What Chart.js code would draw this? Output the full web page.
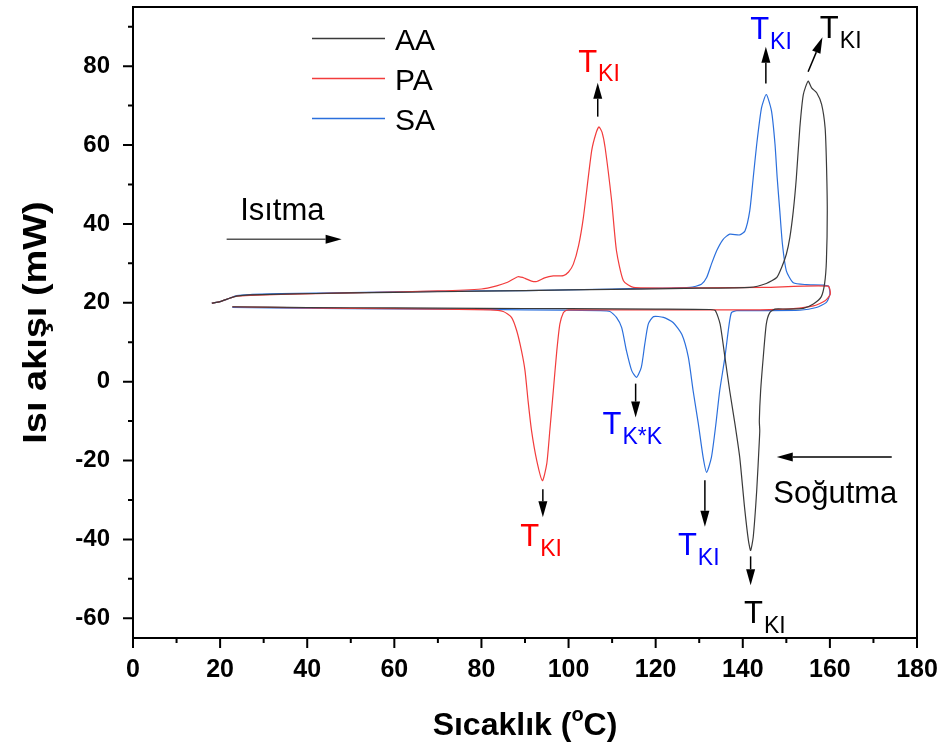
<!DOCTYPE html>
<html>
<head>
<meta charset="utf-8">
<script src="https://cdn.jsdelivr.net/npm/chart.js@4.4.0/dist/chart.umd.min.js"></script>
<style>
  html, body { margin: 0; padding: 0; background: #fff; }
</style>
</head>
<body>
<canvas id="dsc" width="940" height="744"></canvas>
<script>
// DSC heating / cooling loops, temperature in °C, heat flow in mW
const seriesNames = ['AA', 'PA', 'SA'];
const xTicks = [0, 20, 40, 60, 80, 100, 120, 140, 160, 180];
const yTicks = [-60, -40, -20, 0, 20, 40, 60, 80];

const aaHeatT = [18.1, 20, 22.3, 23.8, 26.9, 34, 50, 70, 90, 110, 130, 141.6, 145.4, 147.8, 148.9, 150, 150.8, 151.6, 152.3, 153.1, 153.9, 155, 155.8, 157, 158.1, 158.9, 159.2, 159.4, 159.2, 158.8, 158, 156.2, 153.9, 150];
const aaHeatQ = [19.9, 20.3, 21.2, 21.7, 22.0, 22.2, 22.5, 22.8, 23.1, 23.4, 23.7, 23.9, 24.9, 26.4, 28.9, 32.3, 36.5, 43.3, 51.7, 64.4, 72.8, 76.2, 74.5, 73.2, 70.3, 64.4, 55.9, 43.3, 30.6, 25.0, 21.5, 19.7, 18.6, 18.4];
const aaCoolT = [147.4, 146.2, 145.4, 144.7, 144.1, 143.8, 143.9, 143.8, 143.2, 142.4, 141.8, 141.3, 140.4, 139.3, 138.2, 137, 135.9, 134.8, 133.7, 132.5, 120, 100, 80, 60, 40, 22.8];
const aaCoolQ = [18.4, 17.5, 14.6, 6.2, -2.3, -9.9, -12.4, -15, -27.6, -39.4, -42.8, -40.3, -31.8, -19.2, -10.7, -2.3, 6.2, 14.6, 18.0, 18.3, 18.4, 18.5, 18.6, 18.7, 18.8, 19.0];

const paHeatT = [18.1, 20, 22.3, 23.8, 26.9, 34, 50, 70, 80, 83.5, 86, 88.4, 90, 91.5, 92.7, 94.5, 96.5, 98.8, 100, 101.1, 102.3, 103.4, 105.3, 106.3, 107, 107.7, 108.4, 109.9, 111, 112.6, 114.9, 130, 145, 159.6, 160.1, 158.9, 156.2, 151.6];
const paHeatQ = [19.9, 20.3, 21.2, 21.7, 21.9, 22.1, 22.5, 23.0, 23.5, 24.3, 25.2, 26.6, 26.2, 25.5, 25.4, 26.3, 26.8, 26.9, 27.8, 29.8, 34.5, 41.6, 58.5, 63.0, 64.6, 63.2, 59.3, 45.8, 33.2, 25.6, 23.9, 23.8, 23.9, 24.2, 22.2, 20.5, 19.2, 18.5];
const paCoolT = [144, 120, 100, 99.5, 98.8, 98, 97.3, 96.5, 95.7, 95, 94, 92.7, 91.5, 90.7, 90, 89.2, 88.1, 86.9, 85, 82, 60, 40, 22.8];
const paCoolQ = [18.2, 18.2, 18.2, 18.1, 17.5, 14.6, 7.8, -2.3, -12.4, -20.8, -25.1, -20, -12.4, -4.8, 2.8, 7.8, 12.9, 16.3, 17.8, 18.2, 18.5, 18.7, 19.0];

const saHeatT = [18.1, 20, 22.3, 23.8, 26.9, 34, 50, 70, 90, 110, 127.9, 130.5, 131.7, 132.8, 134, 135.5, 137, 139.3, 140.5, 141.6, 142.4, 143.2, 144.3, 145.4, 146.6, 147.4, 147.9, 148.5, 149.1, 150, 151.6, 154.6, 159.6, 160, 159.2, 156.9, 153.1, 144];
const saHeatQ = [19.9, 20.3, 21.2, 21.8, 22.1, 22.3, 22.6, 22.9, 23.1, 23.5, 23.9, 24.7, 26.4, 29.8, 33.2, 36.1, 37.4, 37.2, 38.2, 43.3, 51.7, 60.2, 69.4, 72.8, 68.6, 60.2, 51.7, 43.3, 34.9, 28.1, 25.1, 24.6, 24.3, 22.2, 20.1, 18.8, 18.1, 18.0];
const saCoolT = [138.6, 137.4, 136.8, 135.9, 134.7, 133.8, 132.8, 131.7, 130.9, 129.8, 128.6, 127.5, 126, 124, 121.8, 119.5, 118.3, 117.5, 116.7, 115.6, 114.5, 113.3, 112.2, 111, 109.5, 107.2, 90, 70, 50, 22.8];
const saCoolQ = [18.0, 17.5, 14.0, 6.2, -2.3, -11, -19.2, -23, -19.2, -10.7, -2.3, 6.2, 12, 15, 16.3, 16.5, 14.6, 9.5, 3.6, 1.1, 2.8, 7.8, 13.7, 16.3, 17.8, 18.0, 18.2, 18.4, 18.5, 18.8];

function toPoints(ts, qs) {
  return ts.map((t, i) => ({ x: t, y: qs[i] }));
}

const aaPts = toPoints(aaHeatT.concat(aaCoolT), aaHeatQ.concat(aaCoolQ));
const paPts = toPoints(paHeatT.concat(paCoolT), paHeatQ.concat(paCoolQ));
const saPts = toPoints(saHeatT.concat(saCoolT), saHeatQ.concat(saCoolQ));

const FONT = '"Liberation Sans", Arial, sans-serif';

// peak labels "T" + subscript, arrows, in data units
const peakLabels = [
  { x: 102.2, y: 78.6, sub: 'KI', color: '#ff0000' },
  { x: 141.7, y: 86.8, sub: 'KI', color: '#0000ff' },
  { x: 157.7, y: 87.1, sub: 'KI', color: '#000000' },
  { x: 88.9, y: -41.7, sub: 'KI', color: '#ff0000' },
  { x: 107.8, y: -13.3, sub: 'K*K', color: '#0000ff' },
  { x: 125.1, y: -44.0, sub: 'KI', color: '#0000ff' },
  { x: 140.3, y: -61.2, sub: 'KI', color: '#000000' }
];
const arrows = [
  [106.7, 67.2, 106.7, 75.8],
  [145.3, 75.6, 145.3, 84.9],
  [155.0, 78.6, 158.3, 87.3],
  [94.1, -27.3, 94.1, -34.4],
  [115.4, -0.5, 115.4, -9.1],
  [131.3, -25.0, 131.3, -36.8],
  [141.8, -44.3, 141.8, -51.6]
];

function drawArrow(ctx, x1, y1, x2, y2, color) {
  const ang = Math.atan2(y2 - y1, x2 - x1);
  const hl = 16, hw = 4.5;
  const bx = x2 - hl * Math.cos(ang), by = y2 - hl * Math.sin(ang);
  ctx.strokeStyle = color;
  ctx.lineWidth = 1.5;
  ctx.beginPath();
  ctx.moveTo(x1, y1);
  ctx.lineTo(bx, by);
  ctx.stroke();
  ctx.fillStyle = '#000';
  ctx.beginPath();
  ctx.moveTo(x2, y2);
  ctx.lineTo(bx + hw * Math.sin(ang), by - hw * Math.cos(ang));
  ctx.lineTo(bx - hw * Math.sin(ang), by + hw * Math.cos(ang));
  ctx.closePath();
  ctx.fill();
}

const decor = {
  id: 'decor',
  beforeDraw(chart) {
    const ctx = chart.ctx;
    ctx.save();
    ctx.fillStyle = '#fff';
    ctx.fillRect(0, 0, chart.width, chart.height);
    ctx.restore();
  },
  afterDatasetsDraw(chart) {
    const ctx = chart.ctx;
    const a = chart.chartArea;
    const xs = chart.scales.x, ys = chart.scales.y;
    const px = v => xs.getPixelForValue(v);
    const py = v => ys.getPixelForValue(v);
    ctx.save();

    // frame
    ctx.strokeStyle = '#000';
    ctx.lineWidth = 2;
    ctx.strokeRect(a.left, a.top, a.right - a.left, a.bottom - a.top);

    // ticks, outward
    ctx.beginPath();
    for (let v = 0; v <= 180; v += 10) {
      const len = v % 20 === 0 ? 10 : 5;
      ctx.moveTo(px(v), a.bottom);
      ctx.lineTo(px(v), a.bottom + len);
    }
    for (let v = -60; v <= 90; v += 10) {
      const len = v % 20 === 0 ? 10 : 5;
      ctx.moveTo(a.left, py(v));
      ctx.lineTo(a.left - len, py(v));
    }
    ctx.stroke();

    // legend
    ctx.textBaseline = 'alphabetic';
    ctx.textAlign = 'left';
    ctx.font = '30px ' + FONT;
    chart.data.datasets.forEach((ds, i) => {
      const ly = 38.5 + i * 40;
      ctx.strokeStyle = ds.borderColor;
      ctx.lineWidth = 1.5;
      ctx.beginPath();
      ctx.moveTo(312, ly);
      ctx.lineTo(385, ly);
      ctx.stroke();
      ctx.fillStyle = '#000';
      ctx.fillText(ds.label, 395, ly + 11.5);
    });

    // heating / cooling notes
    ctx.font = '31px ' + FONT;
    ctx.fillStyle = '#000';
    ctx.fillText('Isıtma', px(24.6), py(41));
    ctx.fillText('Soğutma', px(147), py(-30.7));
    drawArrow(ctx, px(21.5), py(36.1), px(47.9), py(36.1), '#555');
    drawArrow(ctx, px(174.2), py(-19.1), px(147.8), py(-19.1), '#000');

    // peak arrows
    arrows.forEach(r => drawArrow(ctx, px(r[0]), py(r[1]), px(r[2]), py(r[3]), '#000'));

    // peak labels
    peakLabels.forEach(l => {
      const x = px(l.x), y = py(l.y);
      ctx.fillStyle = l.color;
      ctx.font = '31px ' + FONT;
      ctx.fillText('T', x, y);
      const w = ctx.measureText('T').width;
      ctx.font = '23px ' + FONT;
      ctx.fillText(l.sub, x + w + 1, y + 9.5);
    });

    // x axis title with superscript o
    ctx.fillStyle = '#000';
    ctx.font = 'bold 32px ' + FONT;
    const p1 = 'Sıcaklık (', sup = 'o', p2 = 'C)';
    const w1 = ctx.measureText(p1).width, w3 = ctx.measureText(p2).width;
    ctx.font = 'bold 20px ' + FONT;
    const w2 = ctx.measureText(sup).width;
    const tx = (a.left + a.right) / 2 - (w1 + w2 + w3) / 2;
    const tb = 735;
    ctx.font = 'bold 32px ' + FONT;
    ctx.fillText(p1, tx, tb);
    ctx.font = 'bold 20px ' + FONT;
    ctx.fillText(sup, tx + w1, tb - 14);
    ctx.font = 'bold 32px ' + FONT;
    ctx.fillText(p2, tx + w1 + w2, tb);

    // y axis title
    ctx.translate(46, (a.top + a.bottom) / 2);
    ctx.rotate(-Math.PI / 2);
    ctx.scale(1.15, 1);
    ctx.textAlign = 'center';
    ctx.font = 'bold 33px ' + FONT;
    ctx.fillText('Isı akışı (mW)', 0, 0);
    ctx.restore();
  }
};

new Chart(document.getElementById('dsc').getContext('2d'), {
  type: 'scatter',
  data: {
    datasets: [
      { label: seriesNames[0], data: aaPts, borderColor: '#3a3a3a' },
      { label: seriesNames[1], data: paPts, borderColor: '#f23c3c' },
      { label: seriesNames[2], data: saPts, borderColor: '#2b6fdc' }
    ].map(d => Object.assign(d, {
      showLine: true, pointRadius: 0, borderWidth: 1.2, tension: 0.2, fill: false
    }))
  },
  options: {
    responsive: false,
    animation: false,
    layout: { padding: { top: 7, right: 23, left: 0, bottom: 0 } },
    plugins: { legend: { display: false }, tooltip: { enabled: false } },
    scales: {
      x: {
        type: 'linear', min: 0, max: 180,
        afterBuildTicks: s => { s.ticks = xTicks.map(v => ({ value: v })); },
        afterFit: s => { s.height = 106; s.paddingLeft = 0; s.paddingRight = 0; },
        grid: { display: false, drawTicks: true, tickLength: 10 },
        border: { display: false },
        ticks: { color: '#000', padding: 7, maxRotation: 0, font: { family: FONT, size: 25, weight: 'bold' } }
      },
      y: {
        type: 'linear', min: -65, max: 95,
        afterBuildTicks: s => { s.ticks = yTicks.map(v => ({ value: v })); },
        afterFit: s => { s.width = 133; s.paddingTop = 0; s.paddingBottom = 0; },
        grid: { display: false, drawTicks: true, tickLength: 10 },
        border: { display: false },
        ticks: { color: '#000', padding: 13, font: { family: FONT, size: 24, weight: 'bold' } }
      }
    }
  },
  plugins: [decor]
});
</script>
</body>
</html>
